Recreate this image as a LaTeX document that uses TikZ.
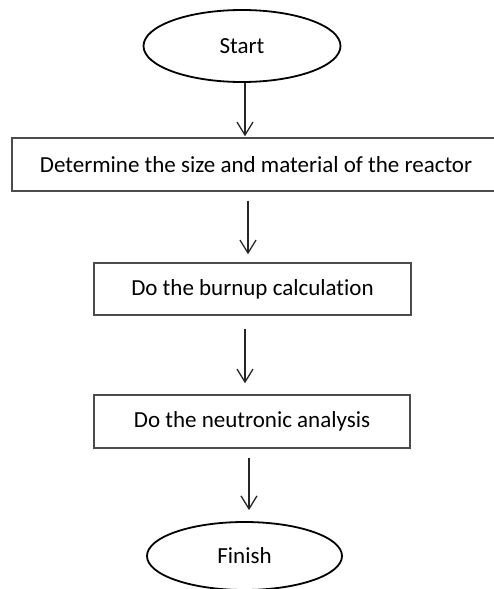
\documentclass[tikz,border=0pt]{standalone}
\usepackage{fontspec}
\setmainfont[Ligatures=NoCommon]{Carlito}
\usetikzlibrary{shapes.geometric,arrows.meta}
\begin{document}
\begin{tikzpicture}[x=1pt,y=-1pt,
  term/.style={ellipse,draw=black,line width=1.8pt,inner sep=0pt,font=\fontsize{23}{26}\selectfont},
  procbox/.style={rectangle,draw=black!70,line width=1.4pt,inner sep=0pt,font=\fontsize{23}{26}\selectfont},
  arr/.style={draw=black!85,line width=1.3pt,-{Straight Barb[length=13pt,width=16pt,line width=1.3pt]}}]
\useasboundingbox (0,0) rectangle (494,589);
\node[term,minimum width=197pt,minimum height=72pt] (start) at (242,46) {Start};
\node[procbox,minimum width=490pt,minimum height=53pt] (r1) at (257,164.5) {\hspace*{-2pt}Determine the size and material of the reactor};
\node[procbox,minimum width=317pt,minimum height=52pt] (r2) at (252.5,289) {Do the burnup calculation};
\node[procbox,minimum width=316pt,minimum height=53pt] (r3) at (252,421.5) {Do the neutronic analysis};
\node[term,minimum width=195pt,minimum height=68pt] (fin) at (244.5,556) {Finish};
\draw[arr,shorten >=1pt] ([xshift=3pt]start.south) -- ([xshift=3pt]start.south |- r1.north);
\draw[arr,shorten <=9pt,shorten >=8pt] ([xshift=-9pt]r1.south) -- ([xshift=-9pt]r1.south |- r2.north);
\draw[arr,shorten <=13pt,shorten >=11pt] ([xshift=-7.5pt]r2.south) -- ([xshift=-7.5pt]r2.south |- r3.north);
\draw[arr,shorten <=9pt,shorten >=11pt] ([xshift=-3pt]r3.south) -- ([xshift=-3pt]r3.south |- fin.north);
\end{tikzpicture}
\end{document}
